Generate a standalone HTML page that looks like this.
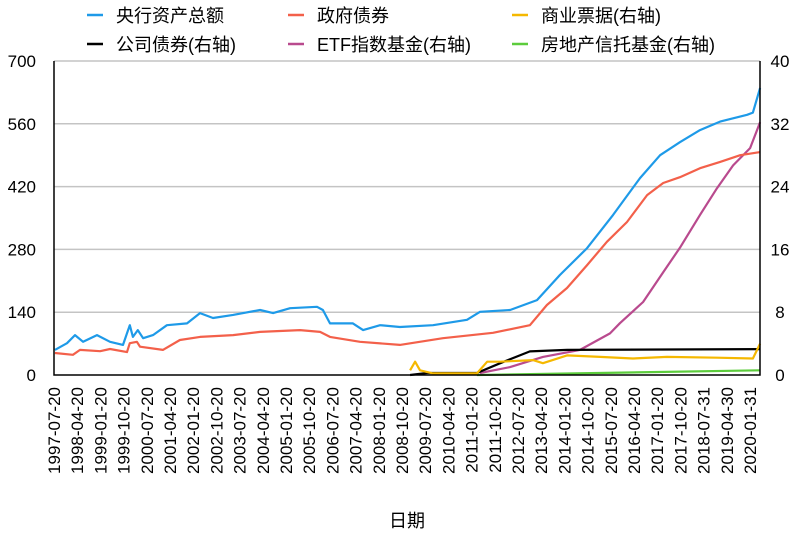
<!DOCTYPE html>
<html><head><meta charset="utf-8"><style>
html,body{margin:0;padding:0;background:#fff;}
svg text{font-family:"Liberation Sans","Noto Sans CJK SC",sans-serif;fill:#000;}
</style></head><body>
<svg id="chart" width="803" height="533" xmlns="http://www.w3.org/2000/svg"></svg>
<script>
const leftTicks=[0,140,280,420,560,700];
const rightTicks=[0,8,16,24,32,40];
const dateLabels=["1997-07-20","1998-04-20","1999-01-20","1999-10-20","2000-07-20","2001-04-20","2002-01-20","2002-10-20","2003-07-20","2004-04-20","2005-01-20","2005-10-20","2006-07-20","2007-04-20","2008-01-20","2008-10-20","2009-07-20","2010-04-20","2011-01-20","2011-10-20","2012-07-20","2013-04-20","2014-01-20","2014-10-20","2015-07-20","2016-04-20","2017-01-20","2017-10-20","2018-07-31","2019-04-30","2020-01-31"];
const blueT=[1997.58,1997.97,1998.23,1998.49,1998.94,1999.36,1999.78,2000.0,2000.1,2000.26,2000.43,2000.75,2001.2,2001.85,2002.27,2002.69,2003.34,2004.21,2004.63,2005.18,2006.05,2006.24,2006.47,2007.21,2007.54,2008.09,2008.73,2009.8,2010.9,2011.32,2012.29,2013.16,2013.9,2014.78,2015.62,2016.49,2017.14,2017.78,2018.43,2019.08,2019.95,2020.14,2020.37];
const blueV=[56,71,89,74,89,74,67,111,85,100,82,89,111,115,138,127,134,145,138,149,152,145,115,115,100,111,107,111,123,141,145,167,223,283,357,439,490,519,546,565,580,585,640];
const redT=[1997.58,1998.16,1998.39,1999.04,1999.36,1999.91,2000.0,2000.23,2000.33,2001.07,2001.62,2002.27,2003.34,2004.21,2005.5,2006.15,2006.47,2007.44,2008.73,2010.12,2011.74,2012.93,2013.48,2014.13,2014.78,2015.42,2016.07,2016.72,2017.24,2017.78,2018.43,2019.08,2019.73,2020.37];
const redV=[49,45,56,53,58,51,71,74,63,56,78,85,89,96,100,96,85,74,67,82,94,111,156,194,245,297,341,401,428,441,461,475,490,497];
const yellowT=[2009.06,2009.22,2009.38,2009.8,2011.22,2011.55,2011.97,2013.03,2013.35,2014.13,2015.2,2016.26,2017.36,2018.98,2020.14,2020.37];
const yellowV=[0.6,1.7,0.6,0.2,0.2,1.7,1.7,1.9,1.5,2.5,2.3,2.1,2.3,2.2,2.1,4.0];
const blackT=[2009.06,2009.61,2011.22,2011.97,2012.93,2014.13,2020.37];
const blackV=[0,0.25,0.25,1.5,3.0,3.2,3.3];
const purpleT=[2011.32,2012.29,2013.35,2014.55,2015.52,2015.84,2016.59,2017.24,2017.78,2018.43,2018.98,2019.5,2020.05,2020.37];
const purpleV=[0.25,1.0,2.3,3.2,5.3,6.6,9.3,13.1,16.2,20.4,23.8,26.7,28.9,32.2];
const greenT=[2011.22,2020.37];
const greenV=[0,0.6];

const NS="http://www.w3.org/2000/svg";
const svg=document.getElementById('chart');
const L=54,R=760,T=61,B=375;
const xT=t=>L+(t-1997.55)*30.94;
const yL=v=>B-(v/700)*(B-T);
const yR=v=>B-(v/40)*(B-T);
function mk(tag,attrs,parent){const e=document.createElementNS(NS,tag);for(const k in attrs)e.setAttribute(k,attrs[k]);(parent||svg).appendChild(e);return e;}

leftTicks.forEach((v,i)=>{
  if(v>0){const g=mk('line',{x1:L,x2:R,y1:yL(v),y2:yL(v),stroke:'#c4c4c4','stroke-width':1.5});
  
  }
  const t=mk('text',{x:36,y:yL(v)+6,'text-anchor':'end','font-size':17});t.textContent=v;
  
  
});
rightTicks.forEach(v=>{
  const t=mk('text',{x:780,y:yR(v)+6,'text-anchor':'middle','font-size':17});t.textContent=v;
  
  
});
dateLabels.forEach((d,i)=>{
  const x=L+i*23.2;
  const t=mk('text',{x:x+6,y:387,'text-anchor':'end','font-size':17,transform:`rotate(-90 ${x+6} 387)`});t.textContent=d;
  
  
});
function series(tArr,vArr,ys,color,name){
  const pts=tArr.map((t,i)=>xT(t).toFixed(1)+','+ys(vArr[i]).toFixed(1)).join(' ');
  const p=mk('polyline',{points:pts,fill:'none',stroke:color,'stroke-width':2.2,'stroke-linejoin':'round'});
  
  
}
series(greenT,greenV,yR,'#5ccc3c','line-reit');
series(purpleT,purpleV,yR,'#b94a8e','line-etf');
series(blackT,blackV,yR,'#000000','line-corporate-bonds');
series(yellowT,yellowV,yR,'#f5b800','line-commercial-paper');
series(redT,redV,yL,'#f3604a','line-government-bonds');
series(blueT,blueV,yL,'#1e9ae8','line-central-bank-assets');

const ax=mk('path',{d:`M${L},${T} V${B} H${R} V${T}`,fill:'none',stroke:'#000','stroke-width':1.5});


const xt=mk('text',{x:407,y:527,'text-anchor':'middle','font-size':18});xt.textContent='日期';



const legendNames=['央行资产总额','政府债券','商业票据(右轴)','公司债券(右轴)','ETF指数基金(右轴)','房地产信托基金(右轴)'];
const legendColors=['#1e9ae8','#f3604a','#f5b800','#000000','#b94a8e','#5ccc3c'];
const colX=[87,288,512];
legendNames.forEach((n,i)=>{
  const cx=colX[i%3],cy=i<3?15:44;
  const g=mk('g',{});
  
  
  mk('line',{x1:cx,x2:cx+16,y1:cy,y2:cy,stroke:legendColors[i],'stroke-width':2.5},g);
  const t=mk('text',{x:cx+29,y:cy+7,'font-size':18},g);t.textContent=n;
});
</script>
</body></html>
